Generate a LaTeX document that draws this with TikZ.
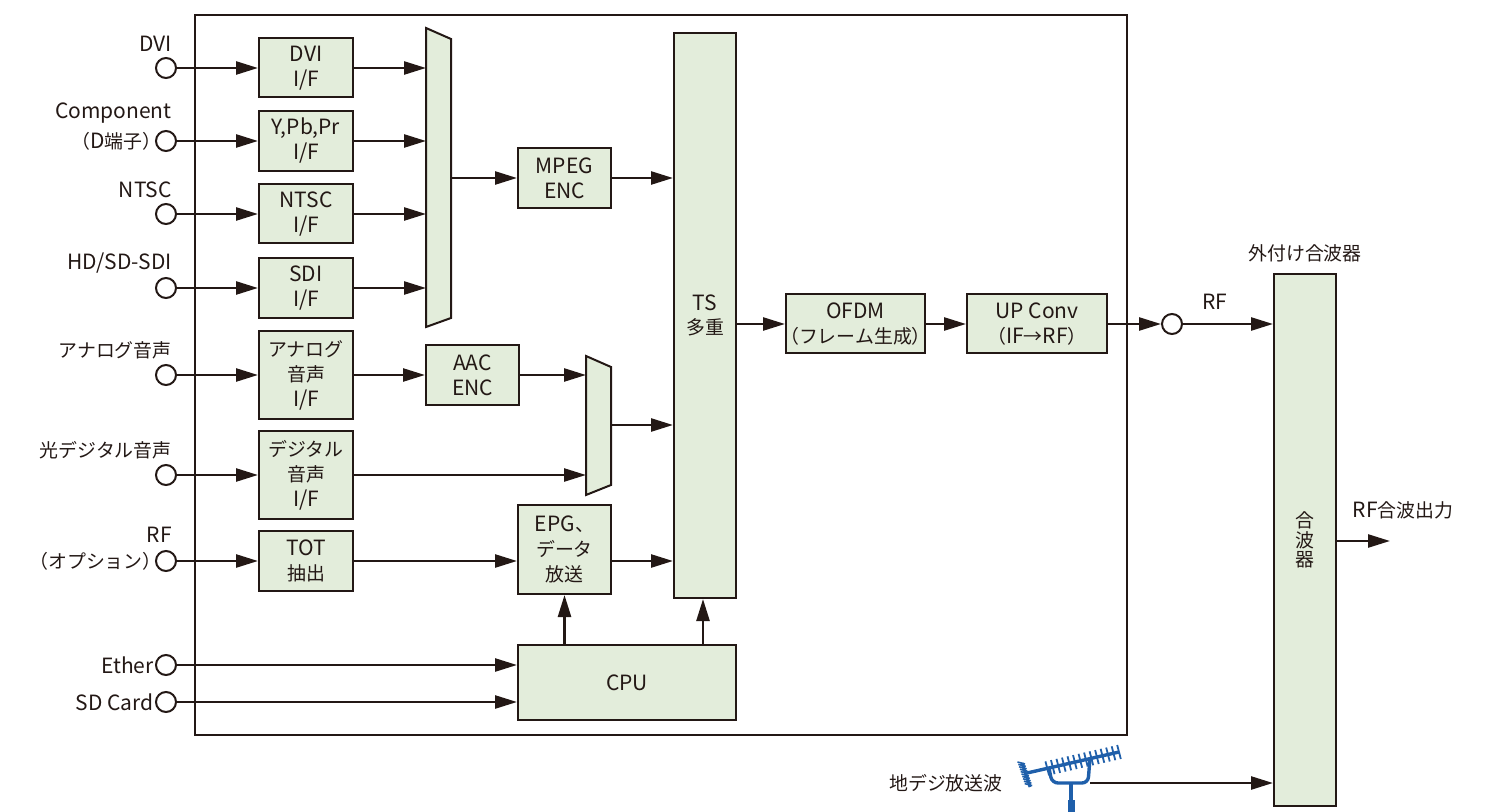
\documentclass[tikz,border=0pt]{standalone}
\usepackage{fontspec}
\setmainfont{Noto Sans CJK JP}
\newfontfamily\cjkf{Noto Sans CJK JP}[Scale=0.9]
\newcommand\J[1]{{\cjkf #1}}
\usetikzlibrary{arrows.meta,calc}
\definecolor{boxfill}{HTML}{E3EDDB}
\definecolor{ink}{HTML}{231815}
\definecolor{antblue}{HTML}{1F5FAA}
\tikzset{
 blk/.style={draw=ink, fill=boxfill, line width=1pt, inner sep=0pt, align=center, font=\fontsize{10.5}{12.5}\selectfont, text=ink},
 muxshape/.style={draw=ink, fill=boxfill, line width=1pt},
 arr/.style={draw=ink, line width=1.25pt, -{Triangle[length=11pt,width=6.5pt]}},
 port/.style={circle, draw=ink, fill=white, line width=1pt, minimum size=10pt, inner sep=0pt},
 lbl/.style={font=\fontsize{10.5}{12.5}\selectfont, text=ink, inner sep=0pt, align=center},
}
\begin{document}
\begin{tikzpicture}[x=0.5pt,y=-0.5pt]
\useasboundingbox (0,0) rectangle (1498,812);
\draw[ink, line width=0.8pt] (195,15) rectangle (1127,735);

% interface boxes
\node[blk, minimum width=47pt, minimum height=29.5pt] (dvi) at (306,68) {DVI\\I/F};
\node[blk, minimum width=47pt, minimum height=30pt] (ypp) at (306,141) {Y,Pb,Pr\\I/F};
\node[blk, minimum width=47pt, minimum height=29.5pt] (ntsc) at (306,214) {NTSC\\I/F};
\node[blk, minimum width=47pt, minimum height=30pt] (sdi) at (306,288) {SDI\\I/F};
\node[blk, minimum width=47pt, minimum height=44pt] (ana) at (306,375) {\J{アナログ}\\\J{音声}\\I/F};
\node[blk, minimum width=47pt, minimum height=44pt] (dig) at (306,475) {\J{デジタル}\\\J{音声}\\I/F};
\node[blk, minimum width=47pt, minimum height=30pt] (tot) at (306,561) {TOT\\\J{抽出}};

\node[blk, minimum width=46.5pt, minimum height=30pt] (mpeg) at (564.5,178) {MPEG\\ENC};
\node[blk, minimum width=46.5pt, minimum height=30pt] (aac) at (472.5,375) {AAC\\ENC};
\node[blk, minimum width=46.5pt, minimum height=44.5pt] (epg) at (564.5,549.5) {EPG\J{、}\\\J{データ}\\\J{放送}};
\node[blk, minimum width=109pt, minimum height=37.5pt] (cpu) at (627,682.5) {CPU};
\node[blk, minimum width=31pt, minimum height=282.5pt, font=\fontsize{10.5}{12}\selectfont] (ts) at (705,315.5) {TS\\\J{多重}};
\node[blk, minimum width=69.5pt, minimum height=29.5pt] (ofdm) at (855.5,324) {OFDM\\\J{\kern-0.4em（フレーム生成）\kern-0.4em}};
\node[blk, minimum width=70pt, minimum height=29.5pt] (upc) at (1037,324) {UP Conv\\\J{（}IF\J{→}RF\J{）}};
\node[blk, minimum width=31pt, minimum height=266pt, font=\fontsize{10.5}{9.6}\selectfont] (comb) at (1305,540) {\J{合}\\\J{波}\\\J{器}};

% multiplexers
\draw[muxshape] (426,28) -- (451,39) -- (451,318) -- (426,327) -- cycle;
\draw[muxshape] (586,356) -- (611,367) -- (611,485) -- (586,495) -- cycle;
\coordinate (m1in) at (426,0);
\coordinate (m1out) at (451,178);
\coordinate (m2in) at (586,0);
\coordinate (m2out) at (611,425);

% input ports
\node[port] (pDVI) at (166,68) {};
\node[port] (pCOMP) at (166,141) {};
\node[port] (pNTSC) at (166,214) {};
\node[port] (pSDI) at (166,288) {};
\node[port] (pANA) at (166,375) {};
\node[port] (pDIG) at (166,475) {};
\node[port] (pRF) at (166,561) {};
\node[port] (pETH) at (166,665) {};
\node[port] (pSD) at (166,702) {};
\node[port] (pOUT) at (1172,324) {};

% input labels
\node[lbl, anchor=east] (lDVI) at (172,44) {DVI};
\node[lbl, anchor=east] (lCOMP) at (172,113) {Component};
\node[lbl, anchor=east] (lCOMP2) at (162,141) {\J{（}D\J{端子）}};
\node[lbl, anchor=east] (lNTSC) at (172,190) {NTSC};
\node[lbl, anchor=east] (lSDI) at (172,263) {HD/SD-SDI};
\node[lbl, anchor=east] (lANA) at (172,350) {\J{アナログ音声}};
\node[lbl, anchor=east] (lDIG) at (172,450) {\J{光デジタル音声}};
\node[lbl, anchor=east] (lRF) at (172,535) {RF};
\node[lbl, anchor=east] (lRF2) at (162,561) {\J{（オプション）}};
\node[lbl, anchor=east] (lETH) at (154,665) {Ether};
\node[lbl, anchor=east] (lSD) at (154,702) {SD Card};

\node[lbl] (lRFo) at (1215,302) {RF};
\node[lbl] (lEXT) at (1305,253) {\J{外付け合波器}};
\node[lbl] (lCOUT) at (1403,510) {RF\J{合波出力}};
\node[lbl, anchor=east] (lANT) at (1003,783) {\J{地デジ放送波}};

% connectors
\draw[arr] (pDVI) -- (dvi);
\draw[arr] (pCOMP) -- (ypp);
\draw[arr] (pNTSC) -- (ntsc);
\draw[arr] (pSDI) -- (sdi);
\draw[arr] (pANA) -- (ana);
\draw[arr] (pDIG) -- (dig);
\draw[arr] (pRF) -- (tot);
\draw[arr] (pETH) -- (pETH -| cpu.west);
\draw[arr] (pSD) -- (pSD -| cpu.west);

\draw[arr] (dvi.east) -- (dvi.east -| m1in);
\draw[arr] (ypp.east) -- (ypp.east -| m1in);
\draw[arr] (ntsc.east) -- (ntsc.east -| m1in);
\draw[arr] (sdi.east) -- (sdi.east -| m1in);
\draw[arr] (m1out) -- (mpeg.west);
\draw[arr] (mpeg.east) -- (mpeg.east -| ts.west);

\draw[arr] (ana) -- (aac);
\draw[arr] (aac.east) -- (aac.east -| m2in);
\draw[arr] (dig.east) -- (dig.east -| m2in);
\draw[arr] (m2out) -- (m2out -| ts.west);

\draw[arr] (tot.east) -- (tot.east -| epg.west);
\draw[arr] (epg.east |- tot.east) -- (ts.west |- tot.east);

\coordinate (cpuTS) at (703,0);
\draw[arr] (cpu.north -| epg.south) -- (epg.south);
\draw[arr] (cpu.north -| cpuTS) -- (ts.south -| cpuTS);

\draw[arr] (ts.east |- ofdm.west) -- (ofdm.west);
\draw[arr] (ofdm) -- (upc);
\draw[arr] (upc) -- (pOUT);
\draw[arr] (pOUT) -- (pOUT -| comb.west);

\coordinate (rfOut) at (1390,541);
\draw[arr] (comb.east |- rfOut) -- (rfOut);

% antenna
\coordinate (antOut) at (1090,783);
\draw[arr] (antOut) -- (antOut -| comb.west);
\begin{scope}[antblue]
\draw[line width=1.7pt] (1027,773) -- (1119,752);
\foreach \t in {0.22,0.28,...,1.0} {
  \draw[line width=0.9pt] ($(1027,773)!\t!(1119,752)+(-1.8,-7)$) -- ($(1027,773)!\t!(1119,752)+(1.8,7)$);
}
\draw[line width=1.5pt] (1022,763) -- (1030,787);
\foreach \s in {0,0.1,...,1.0} {
  \draw[line width=0.8pt] ($(1022,763)!\s!(1030,787)+(-4.5,-1)$) -- ($(1022,763)!\s!(1030,787)+(3,1)$);
}
\draw[line width=1.7pt, rounded corners=3pt] (1049,768) -- (1052,783) -- (1088,783) -- (1090,758);
\draw[line width=1.7pt] (1071,783) -- (1071,802);
\fill (1067.5,800) rectangle (1074.5,812);
\end{scope}
\end{tikzpicture}
\end{document}
